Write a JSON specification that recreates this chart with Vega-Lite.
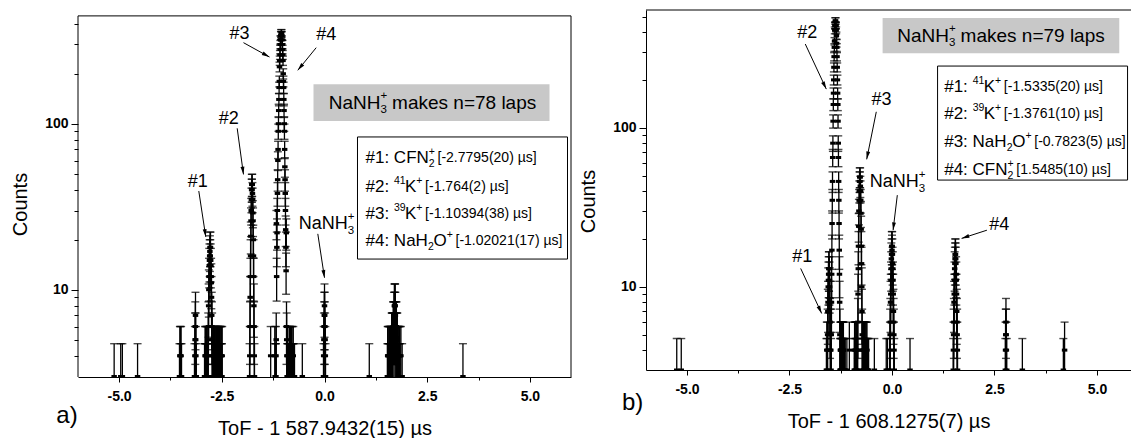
{
  "$schema": "https://vega.github.io/schema/vega-lite/v6.json",
  "background": "white",
  "padding": {"left": 10, "top": 9, "right": 0, "bottom": 0},
  "spacing": 6,
  "config": {
    "font": "Liberation Sans",
    "axis": {"domainColor": "black", "tickColor": "black", "labelColor": "black", "titleColor": "black", "grid": false, "labelFont": "Liberation Sans", "labelFontWeight": "bold", "labelFontSize": 14, "titleFont": "Liberation Sans", "titleFontWeight": "normal", "titleFontSize": 20, "domainWidth": 1, "tickWidth": 1},
    "text": {"font": "Liberation Sans", "color": "black"}
  },
  "datasets": {
    "err": [
      {"n":3,"lo":1.27,"hi":4.73},{"n":4,"lo":2,"hi":6},{"n":5,"lo":2.76,"hi":7.24},{"n":6,"lo":3.55,"hi":8.45},
      {"n":7,"lo":4.35,"hi":9.65},{"n":8,"lo":5.17,"hi":10.83},{"n":9,"lo":6,"hi":12},{"n":10,"lo":6.84,"hi":13.16},
      {"n":11,"lo":7.68,"hi":14.32},{"n":12,"lo":8.54,"hi":15.46},{"n":13,"lo":9.39,"hi":16.61},{"n":14,"lo":10.26,"hi":17.74},
      {"n":15,"lo":11.13,"hi":18.87},{"n":16,"lo":12,"hi":20},{"n":17,"lo":12.88,"hi":21.12},{"n":18,"lo":13.76,"hi":22.24},
      {"n":19,"lo":14.64,"hi":23.36},{"n":20,"lo":15.53,"hi":24.47},{"n":21,"lo":16.42,"hi":25.58},{"n":22,"lo":17.31,"hi":26.69},
      {"n":23,"lo":18.2,"hi":27.8},{"n":24,"lo":19.1,"hi":28.9},{"n":25,"lo":20,"hi":30},{"n":26,"lo":20.9,"hi":31.1},
      {"n":27,"lo":21.8,"hi":32.2},{"n":28,"lo":22.71,"hi":33.29},{"n":29,"lo":23.61,"hi":34.39},{"n":30,"lo":24.52,"hi":35.48},
      {"n":35,"lo":29.08,"hi":40.92},{"n":38,"lo":31.84,"hi":44.16},{"n":40,"lo":33.68,"hi":46.32},{"n":43,"lo":36.44,"hi":49.56},
      {"n":46,"lo":39.22,"hi":52.78},{"n":49,"lo":42,"hi":56},{"n":55,"lo":47.58,"hi":62.42},{"n":60,"lo":52.25,"hi":67.75},
      {"n":65,"lo":56.94,"hi":73.06},{"n":70,"lo":61.63,"hi":78.37},{"n":80,"lo":71.06,"hi":88.94},{"n":90,"lo":80.51,"hi":99.49},
      {"n":100,"lo":90,"hi":110},{"n":110,"lo":99.51,"hi":120.49},{"n":120,"lo":109.05,"hi":130.95},{"n":140,"lo":128.17,"hi":151.83},
      {"n":165,"lo":152.15,"hi":177.85},{"n":180,"lo":166.58,"hi":193.42},{"n":200,"lo":185.86,"hi":214.14},{"n":220,"lo":205.17,"hi":234.83},
      {"n":240,"lo":224.51,"hi":255.49},{"n":260,"lo":243.88,"hi":276.12},{"n":280,"lo":263.27,"hi":296.73},{"n":300,"lo":282.68,"hi":317.32},
      {"n":320,"lo":302.11,"hi":337.89},{"n":340,"lo":321.56,"hi":358.44},{"n":350,"lo":331.29,"hi":368.71},{"n":380,"lo":360.51,"hi":399.49},
      {"n":410,"lo":389.75,"hi":430.25},{"n":440,"lo":419.02,"hi":460.98},{"n":470,"lo":448.32,"hi":491.68}
    ],
    "histA": [
      {"x":-5.12,"n":3},{"x":-4.96,"n":3},{"x":-4.92,"n":3},{"x":-4.55,"n":3},
      {"x":-3.53,"n":3},{"x":-3.52,"n":4},{"x":-3.51,"n":4},{"x":-3.5,"n":3},{"x":-3.49,"n":4},{"x":-3.48,"n":3},
      {"x":-3.165,"n":3},{"x":-3.155,"n":4},{"x":-3.15,"n":5},{"x":-3.145,"n":6},{"x":-3.14,"n":7},{"x":-3.135,"n":5},{"x":-3.13,"n":4},{"x":-3.12,"n":3},
      {"x":-2.92,"n":3},{"x":-2.9125,"n":3},{"x":-2.905,"n":4},{"x":-2.8975,"n":4},{"x":-2.89,"n":3},{"x":-2.8825,"n":3},{"x":-2.875,"n":4},{"x":-2.8675,"n":4},{"x":-2.86,"n":4},{"x":-2.85,"n":3},{"x":-2.84,"n":3},{"x":-2.835,"n":4},{"x":-2.83,"n":5},{"x":-2.825,"n":6},{"x":-2.82,"n":8},{"x":-2.815,"n":10},{"x":-2.81,"n":12},{"x":-2.805,"n":14},{"x":-2.8,"n":15},{"x":-2.795,"n":16},{"x":-2.79,"n":17},{"x":-2.785,"n":18},{"x":-2.78,"n":16},{"x":-2.775,"n":18},{"x":-2.77,"n":15},{"x":-2.765,"n":14},{"x":-2.76,"n":12},{"x":-2.755,"n":11},{"x":-2.75,"n":9},{"x":-2.745,"n":7},{"x":-2.74,"n":6},{"x":-2.735,"n":5},{"x":-2.73,"n":4},{"x":-2.72,"n":3},{"x":-2.71,"n":4},{"x":-2.7025,"n":3},{"x":-2.7,"n":4},{"x":-2.6925,"n":4},{"x":-2.685,"n":3},{"x":-2.6775,"n":4},{"x":-2.67,"n":4},{"x":-2.6625,"n":3},{"x":-2.655,"n":3},{"x":-2.6475,"n":4},{"x":-2.64,"n":4},{"x":-2.6325,"n":4},{"x":-2.625,"n":3},{"x":-2.6175,"n":3},{"x":-2.61,"n":4},{"x":-2.6025,"n":4},{"x":-2.595,"n":3},{"x":-2.5875,"n":4},{"x":-2.58,"n":4},{"x":-2.5725,"n":3},{"x":-2.565,"n":3},{"x":-2.5575,"n":4},{"x":-2.55,"n":4},{"x":-2.5425,"n":4},{"x":-2.535,"n":3},{"x":-2.5275,"n":3},{"x":-2.52,"n":4},{"x":-2.5125,"n":4},{"x":-2.505,"n":3},{"x":-2.4975,"n":3},{"x":-2.49,"n":4},
      {"x":-1.824,"n":3},{"x":-1.819,"n":4},{"x":-1.814,"n":6},{"x":-1.809,"n":9},{"x":-1.804,"n":12},{"x":-1.799,"n":16},{"x":-1.794,"n":21},{"x":-1.789,"n":26},{"x":-1.784,"n":30},{"x":-1.779,"n":35},{"x":-1.774,"n":40},{"x":-1.769,"n":43},{"x":-1.764,"n":40},{"x":-1.759,"n":43},{"x":-1.754,"n":38},{"x":-1.749,"n":35},{"x":-1.744,"n":29},{"x":-1.739,"n":26},{"x":-1.734,"n":20},{"x":-1.729,"n":16},{"x":-1.724,"n":12},{"x":-1.719,"n":8},{"x":-1.714,"n":6},{"x":-1.709,"n":4},{"x":-1.704,"n":3},
      {"x":-1.31,"n":4},
      {"x":-1.21,"n":4},{"x":-1.2,"n":3},{"x":-1.19,"n":3},{"x":-1.185,"n":3},{"x":-1.18,"n":4},{"x":-1.175,"n":5},{"x":-1.17,"n":25},{"x":-1.165,"n":12},{"x":-1.16,"n":18},{"x":-1.155,"n":22},{"x":-1.15,"n":30},{"x":-1.145,"n":38},{"x":-1.14,"n":46},{"x":-1.135,"n":60},{"x":-1.13,"n":70},{"x":-1.125,"n":90},{"x":-1.12,"n":100},{"x":-1.115,"n":120},{"x":-1.11,"n":140},{"x":-1.105,"n":165},{"x":-1.1,"n":180},{"x":-1.095,"n":220},{"x":-1.09,"n":240},{"x":-1.085,"n":260},{"x":-1.08,"n":280},{"x":-1.075,"n":300},{"x":-1.07,"n":320},{"x":-1.065,"n":320},{"x":-1.06,"n":340},{"x":-1.055,"n":350},{"x":-1.05,"n":340},{"x":-1.045,"n":350},{"x":-1.04,"n":340},{"x":-1.035,"n":320},{"x":-1.03,"n":300},{"x":-1.025,"n":300},{"x":-1.02,"n":280},{"x":-1.015,"n":260},{"x":-1.01,"n":240},{"x":-1.005,"n":200},{"x":-1.0,"n":180},{"x":-0.995,"n":165},{"x":-0.99,"n":140},{"x":-0.985,"n":120},{"x":-0.98,"n":100},{"x":-0.975,"n":90},{"x":-0.97,"n":70},{"x":-0.965,"n":55},{"x":-0.96,"n":46},{"x":-0.955,"n":38},{"x":-0.95,"n":30},{"x":-0.945,"n":23},{"x":-0.94,"n":18},{"x":-0.935,"n":13},{"x":-0.93,"n":22},{"x":-0.925,"n":6},{"x":-0.92,"n":5},{"x":-0.915,"n":4},{"x":-0.91,"n":3},{"x":-0.9,"n":4},{"x":-0.89,"n":3},{"x":-0.88,"n":3},
      {"x":-0.87,"n":3},{"x":-0.86,"n":4},{"x":-0.85,"n":4},{"x":-0.84,"n":4},{"x":-0.83,"n":4},{"x":-0.82,"n":3},{"x":-0.81,"n":3},{"x":-0.8,"n":4},{"x":-0.79,"n":4},{"x":-0.78,"n":3},{"x":-0.77,"n":3},{"x":-0.76,"n":4},{"x":-0.75,"n":3},{"x":-0.73,"n":3},{"x":-0.54,"n":3},
      {"x":-0.025,"n":3},{"x":-0.02,"n":4},{"x":-0.015,"n":5},{"x":-0.01,"n":6},{"x":-0.005,"n":7},{"x":0.0,"n":8},{"x":0.005,"n":7},{"x":0.01,"n":6},{"x":0.015,"n":5},{"x":0.02,"n":4},{"x":0.025,"n":3},
      {"x":1.09,"n":3},
      {"x":1.53,"n":3},{"x":1.5375,"n":4},{"x":1.545,"n":4},{"x":1.5525,"n":3},{"x":1.56,"n":3},{"x":1.5675,"n":4},{"x":1.575,"n":4},{"x":1.5825,"n":3},{"x":1.59,"n":4},{"x":1.5975,"n":4},{"x":1.605,"n":3},{"x":1.6125,"n":4},{"x":1.62,"n":4},{"x":1.6275,"n":4},{"x":1.635,"n":5},{"x":1.6425,"n":5},{"x":1.65,"n":4},{"x":1.6575,"n":5},{"x":1.665,"n":5},{"x":1.6725,"n":6},{"x":1.68,"n":6},{"x":1.685,"n":6},{"x":1.69,"n":7},{"x":1.695,"n":5},{"x":1.7,"n":8},{"x":1.705,"n":6},{"x":1.71,"n":7},{"x":1.715,"n":8},{"x":1.72,"n":8},{"x":1.725,"n":7},{"x":1.73,"n":6},{"x":1.735,"n":5},{"x":1.74,"n":5},{"x":1.745,"n":6},{"x":1.75,"n":6},{"x":1.7575,"n":4},{"x":1.765,"n":5},{"x":1.7725,"n":5},{"x":1.78,"n":4},{"x":1.7875,"n":4},{"x":1.795,"n":4},{"x":1.8025,"n":3},{"x":1.81,"n":3},{"x":1.8175,"n":4},{"x":1.825,"n":4},{"x":1.8325,"n":4},{"x":1.84,"n":3},{"x":1.86,"n":4},{"x":1.89,"n":3},
      {"x":3.37,"n":3}
    ],
    "histB": [
      {"x":-5.25,"n":3},{"x":-5.14,"n":3},
      {"x":-1.6,"n":3},{"x":-1.59,"n":4},
      {"x":-1.58,"n":3},{"x":-1.575,"n":4},{"x":-1.57,"n":5},{"x":-1.565,"n":7},{"x":-1.56,"n":8},{"x":-1.555,"n":10},{"x":-1.55,"n":11},{"x":-1.545,"n":12},{"x":-1.54,"n":13},{"x":-1.535,"n":13},{"x":-1.53,"n":12},{"x":-1.525,"n":11},{"x":-1.52,"n":10},{"x":-1.515,"n":8},{"x":-1.51,"n":6},{"x":-1.505,"n":5},{"x":-1.5,"n":4},{"x":-1.495,"n":4},
      {"x":-1.486,"n":3},{"x":-1.481,"n":5},{"x":-1.476,"n":8},{"x":-1.471,"n":12},{"x":-1.466,"n":17},{"x":-1.461,"n":25},{"x":-1.456,"n":35},{"x":-1.451,"n":46},{"x":-1.446,"n":65},{"x":-1.441,"n":80},{"x":-1.436,"n":110},{"x":-1.431,"n":140},{"x":-1.426,"n":165},{"x":-1.421,"n":200},{"x":-1.416,"n":240},{"x":-1.411,"n":280},{"x":-1.406,"n":320},{"x":-1.401,"n":350},{"x":-1.396,"n":410},{"x":-1.391,"n":440},{"x":-1.386,"n":440},{"x":-1.381,"n":470},{"x":-1.376,"n":470},{"x":-1.371,"n":440},{"x":-1.366,"n":440},{"x":-1.361,"n":410},{"x":-1.356,"n":380},{"x":-1.351,"n":340},{"x":-1.346,"n":320},{"x":-1.341,"n":280},{"x":-1.336,"n":240},{"x":-1.331,"n":200},{"x":-1.326,"n":165},{"x":-1.321,"n":140},{"x":-1.316,"n":110},{"x":-1.311,"n":80},{"x":-1.306,"n":65},{"x":-1.301,"n":46},{"x":-1.296,"n":35},{"x":-1.291,"n":25},{"x":-1.286,"n":17},{"x":-1.281,"n":12},{"x":-1.276,"n":8},{"x":-1.271,"n":5},{"x":-1.266,"n":3},
      {"x":-1.26,"n":4},{"x":-1.255,"n":3},{"x":-1.25,"n":4},{"x":-1.245,"n":4},{"x":-1.24,"n":3},{"x":-1.235,"n":3},{"x":-1.23,"n":4},{"x":-1.225,"n":4},{"x":-1.22,"n":3},{"x":-1.215,"n":3},{"x":-1.21,"n":4},{"x":-1.205,"n":4},{"x":-1.2,"n":3},{"x":-1.195,"n":3},{"x":-1.19,"n":4},{"x":-1.185,"n":4},{"x":-1.18,"n":3},{"x":-1.17,"n":3},{"x":-1.16,"n":3},{"x":-1.14,"n":3},{"x":-1.1,"n":3},{"x":-1.04,"n":4},
      {"x":-0.92,"n":3},{"x":-0.9125,"n":4},{"x":-0.905,"n":4},{"x":-0.8975,"n":3},{"x":-0.89,"n":3},{"x":-0.8825,"n":4},{"x":-0.875,"n":4},{"x":-0.8675,"n":3},{"x":-0.86,"n":4},{"x":-0.855,"n":4},{"x":-0.85,"n":3},
      {"x":-0.842,"n":3},{"x":-0.837,"n":4},{"x":-0.832,"n":6},{"x":-0.827,"n":9},{"x":-0.822,"n":13},{"x":-0.817,"n":18},{"x":-0.812,"n":24},{"x":-0.807,"n":30},{"x":-0.802,"n":35},{"x":-0.797,"n":40},{"x":-0.792,"n":46},{"x":-0.787,"n":49},{"x":-0.782,"n":46},{"x":-0.777,"n":49},{"x":-0.772,"n":43},{"x":-0.767,"n":40},{"x":-0.762,"n":35},{"x":-0.757,"n":29},{"x":-0.752,"n":23},{"x":-0.747,"n":18},{"x":-0.742,"n":14},{"x":-0.737,"n":10},{"x":-0.732,"n":7},{"x":-0.727,"n":5},{"x":-0.722,"n":4},{"x":-0.717,"n":3},
      {"x":-0.71,"n":4},{"x":-0.705,"n":4},{"x":-0.7,"n":3},{"x":-0.695,"n":3},{"x":-0.69,"n":4},{"x":-0.6825,"n":4},{"x":-0.675,"n":3},{"x":-0.6675,"n":4},{"x":-0.66,"n":4},{"x":-0.6525,"n":3},{"x":-0.645,"n":3},{"x":-0.6375,"n":4},{"x":-0.63,"n":4},{"x":-0.6225,"n":3},{"x":-0.615,"n":3},{"x":-0.61,"n":4},{"x":-0.6,"n":3},{"x":-0.59,"n":3},{"x":-0.57,"n":3},
      {"x":-0.43,"n":3},{"x":-0.14,"n":3},{"x":-0.11,"n":3},
      {"x":-0.055,"n":3},{"x":-0.05,"n":4},{"x":-0.045,"n":5},{"x":-0.04,"n":6},{"x":-0.035,"n":8},{"x":-0.03,"n":9},{"x":-0.025,"n":11},{"x":-0.02,"n":13},{"x":-0.015,"n":15},{"x":-0.01,"n":16},{"x":-0.005,"n":18},{"x":0.0,"n":17},{"x":0.005,"n":18},{"x":0.01,"n":16},{"x":0.015,"n":14},{"x":0.02,"n":13},{"x":0.025,"n":11},{"x":0.03,"n":9},{"x":0.035,"n":7},{"x":0.04,"n":6},{"x":0.045,"n":5},{"x":0.05,"n":4},{"x":0.055,"n":3},
      {"x":0.44,"n":3},
      {"x":1.494,"n":3},{"x":1.499,"n":4},{"x":1.504,"n":5},{"x":1.509,"n":6},{"x":1.514,"n":8},{"x":1.519,"n":9},{"x":1.524,"n":11},{"x":1.529,"n":13},{"x":1.534,"n":14},{"x":1.539,"n":15},{"x":1.544,"n":16},{"x":1.549,"n":16},{"x":1.554,"n":15},{"x":1.559,"n":14},{"x":1.564,"n":12},{"x":1.569,"n":11},{"x":1.574,"n":9},{"x":1.579,"n":7},{"x":1.584,"n":6},{"x":1.589,"n":5},{"x":1.594,"n":4},{"x":1.599,"n":3},
      {"x":2.765,"n":3},{"x":2.77,"n":4},{"x":2.775,"n":5},{"x":2.78,"n":6},{"x":2.785,"n":5},{"x":2.79,"n":4},{"x":2.8,"n":3},
      {"x":3.18,"n":3},{"x":4.18,"n":3},{"x":4.21,"n":4}
    ],
    "annA": [
      {"k":"lab","x":-2.069,"y":348,"t":"#3"},
      {"k":"lab","x":0.041,"y":342,"t":"#4"},
      {"k":"lab","x":-2.33,"y":106.3,"t":"#2"},
      {"k":"lab","x":-3.084,"y":44.8,"t":"#1"},
      {"k":"nl","x":-0.628,"y":24.8,"t":"NaNH"},
      {"k":"lsub","x":0.565,"y":24.8,"t":"3"},
      {"k":"lsup","x":0.565,"y":24.8,"t":"+"},
      {"k":"grey","x":0.102,"y":133.8,"t":"NaNH"},
      {"k":"lsub","x":1.361,"y":133.8,"t":"3"},
      {"k":"lsup","x":1.361,"y":133.8,"t":"+"},
      {"k":"grey","x":1.645,"y":133.8,"t":"makes n=78 laps"},
      {"k":"main","x":0.998,"y":62.1,"t":"#1: CFN"},
      {"k":"sub","x":2.539,"y":62.1,"t":"2"},
      {"k":"sup","x":2.539,"y":62.1,"t":"+"},
      {"k":"br","x":2.751,"y":62.1,"t":"[-2.7795(20) µs]"},
      {"k":"main","x":0.998,"y":41.6,"t":"#2:"},
      {"k":"sup","x":1.689,"y":41.6,"t":"41"},
      {"k":"main","x":1.96,"y":41.6,"t":"K"},
      {"k":"sup","x":2.235,"y":41.6,"t":"+"},
      {"k":"br","x":2.449,"y":41.6,"t":"[-1.764(2) µs]"},
      {"k":"main","x":0.998,"y":28.6,"t":"#3:"},
      {"k":"sup","x":1.689,"y":28.6,"t":"39"},
      {"k":"main","x":1.96,"y":28.6,"t":"K"},
      {"k":"sup","x":2.235,"y":28.6,"t":"+"},
      {"k":"br","x":2.449,"y":28.6,"t":"[-1.10394(38) µs]"},
      {"k":"main","x":0.998,"y":19.65,"t":"#4: NaH"},
      {"k":"sub","x":2.517,"y":19.65,"t":"2"},
      {"k":"main","x":2.653,"y":19.65,"t":"O"},
      {"k":"sup","x":2.975,"y":19.65,"t":"+"},
      {"k":"br","x":3.189,"y":19.65,"t":"[-1.02021(17) µs]"},
      {"k":"panel","x":-6.268,"y":1.734,"t":"a)"}
    ],
    "boxA": [
      {"k":"grey","x":-0.268,"x2":5.477,"y":103.8,"y2":172.8},
      {"k":"leg","x":0.803,"x2":5.915,"y":15.3,"y2":83.2}
    ],
    "arrA": [
      {"x":-1.972,"y":307.7,"x2":-1.339,"y2":252,"ang":118.8},
      {"x":-0.202,"y":287,"x2":-0.65,"y2":209.7,"ang":219.2},
      {"x":-2.125,"y":93.8,"x2":-1.972,"y2":49.5,"ang":172.2},
      {"x":-3.06,"y":39.3,"x2":-2.89,"y2":20.8,"ang":171.7},
      {"x":-0.163,"y":21.7,"x2":0.0,"y2":11.8,"ang":171.3}
    ],
    "annB": [
      {"k":"lab","x":-2.066,"y":393.9,"t":"#2"},
      {"k":"lab","x":-0.256,"y":149.4,"t":"#3"},
      {"k":"lab","x":-2.188,"y":15.4,"t":"#1"},
      {"k":"lab","x":2.615,"y":24.4,"t":"#4"},
      {"k":"nl","x":-0.541,"y":45.7,"t":"NaNH"},
      {"k":"lsub","x":0.654,"y":45.7,"t":"3"},
      {"k":"lsup","x":0.654,"y":45.7,"t":"+"},
      {"k":"grey","x":0.127,"y":380,"t":"NaNH"},
      {"k":"lsub","x":1.388,"y":380,"t":"3"},
      {"k":"lsup","x":1.388,"y":380,"t":"+"},
      {"k":"grey","x":1.673,"y":380,"t":"makes n=79 laps"},
      {"k":"main","x":1.274,"y":180.3,"t":"#1:"},
      {"k":"sup","x":1.968,"y":180.3,"t":"41"},
      {"k":"main","x":2.239,"y":180.3,"t":"K"},
      {"k":"sup","x":2.515,"y":180.3,"t":"+"},
      {"k":"br","x":2.729,"y":180.3,"t":"[-1.5335(20) µs]"},
      {"k":"main","x":1.274,"y":121.9,"t":"#2:"},
      {"k":"sup","x":1.968,"y":121.9,"t":"39"},
      {"k":"main","x":2.239,"y":121.9,"t":"K"},
      {"k":"sup","x":2.515,"y":121.9,"t":"+"},
      {"k":"br","x":2.729,"y":121.9,"t":"[-1.3761(10) µs]"},
      {"k":"main","x":1.274,"y":81.3,"t":"#3: NaH"},
      {"k":"sub","x":2.798,"y":81.3,"t":"2"},
      {"k":"main","x":2.934,"y":81.3,"t":"O"},
      {"k":"sup","x":3.256,"y":81.3,"t":"+"},
      {"k":"br","x":3.471,"y":81.3,"t":"[-0.7823(5) µs]"},
      {"k":"main","x":1.274,"y":54.2,"t":"#4: CFN"},
      {"k":"sub","x":2.82,"y":54.2,"t":"2"},
      {"k":"sup","x":2.82,"y":54.2,"t":"+"},
      {"k":"br","x":3.034,"y":54.2,"t":"[1.5485(10) µs]"},
      {"k":"panel","x":-6.327,"y":1.848,"t":"b)"}
    ],
    "boxB": [
      {"k":"grey","x":-0.229,"x2":5.544,"y":293.8,"y2":489.7},
      {"k":"leg","x":1.112,"x2":5.746,"y":46.9,"y2":244.3}
    ],
    "arrB": [
      {"x":-2.115,"y":336,"x2":-1.602,"y2":175,"ang":153.9},
      {"x":-0.383,"y":126,"x2":-0.617,"y2":63.3,"ang":191.4},
      {"x":0.13,"y":37.7,"x2":0.027,"y2":22.7,"ang":186.8},
      {"x":-2.227,"y":13.05,"x2":-1.715,"y2":6.8,"ang":155},
      {"x":2.315,"y":22.7,"x2":1.698,"y2":20.16,"ang":251.8}
    ]
  },
  "hconcat": [
    {
      "width": 493,
      "height": 367,
      "view": {"stroke": null},
      "layer": [
        {
          "data": {"name": "histA"},
          "transform": [{"lookup": "n", "from": {"data": {"name": "err"}, "key": "n", "fields": ["lo", "hi"]}}],
          "layer": [
            {
              "mark": {"type": "rule", "color": "black", "strokeWidth": 1.3, "clip": true},
              "encoding": {
                "x": {"field": "x", "type": "quantitative", "title": "ToF - 1 587.9432(15) µs",
                  "scale": {"domain": [-6, 6], "nice": false, "zero": false},
                  "axis": {"values": [-5, -3.75, -2.5, -1.25, 0, 1.25, 2.5, 3.75, 5],
                    "labelExpr": "abs(datum.value % 2.5) < 0.001 ? (datum.value < 0 ? '-' : '') + format(abs(datum.value), '.1f') : ''",
                    "tickSize": {"condition": {"test": "abs(datum.value % 2.5) < 0.001", "value": 5}, "value": 3},
                    "labelPadding": 7, "titlePadding": 15}},
                "y": {"field": "lo", "type": "quantitative", "title": "Counts",
                  "scale": {"type": "log", "domain": [2.98, 484], "nice": false},
                  "axis": {"values": [4, 5, 6, 7, 8, 9, 10, 20, 30, 40, 50, 60, 70, 80, 90, 100, 200, 300, 400],
                    "domain": false,
                    "labelExpr": "(datum.value == 10 || datum.value == 100) ? '' + datum.value : ''",
                    "tickSize": {"condition": {"test": "datum.value == 10 || datum.value == 100", "value": 7}, "value": 4},
                    "labelPadding": 3, "titlePadding": 14, "titleY": 194}},
                "y2": {"field": "hi"}
              }
            },
            {
              "mark": {"type": "tick", "orient": "horizontal", "color": "black", "size": 8, "thickness": 1.4, "clip": true},
              "encoding": {"x": {"field": "x", "type": "quantitative"}, "y": {"field": "hi", "type": "quantitative"}}
            },
            {
              "mark": {"type": "tick", "orient": "horizontal", "color": "black", "size": 8, "thickness": 1.4, "clip": true},
              "encoding": {"x": {"field": "x", "type": "quantitative"}, "y": {"field": "lo", "type": "quantitative"}}
            },
            {
              "mark": {"type": "point", "shape": "M-1,-0.55L1,-0.55L1,0.55L-1,0.55Z", "filled": true, "color": "black", "size": 30, "opacity": 1, "clip": true},
              "encoding": {"x": {"field": "x", "type": "quantitative"}, "y": {"field": "n", "type": "quantitative"}}
            }
          ]
        },
        {
          "data": {"values": [{}]},
          "mark": {"type": "rule", "color": "black", "strokeWidth": 1},
          "encoding": {"y": {"datum": 446}}
        },
        {
          "data": {"values": [{}]},
          "mark": {"type": "rule", "color": "black", "strokeWidth": 1},
          "encoding": {"x": {"datum": -6}, "y": {"datum": 2.98}, "y2": {"datum": 446}}
        },
        {
          "data": {"values": [{}]},
          "mark": {"type": "rule", "color": "black", "strokeWidth": 1},
          "encoding": {"x": {"datum": 6}, "y": {"datum": 2.98}, "y2": {"datum": 446}}
        },
        {
          "data": {"name": "boxA"},
          "transform": [{"filter": "datum.k == 'grey'"}],
          "mark": {"type": "rect", "color": "#c8c8c8"},
          "encoding": {"x": {"field": "x", "type": "quantitative"}, "x2": {"field": "x2"}, "y": {"field": "y", "type": "quantitative"}, "y2": {"field": "y2"}}
        },
        {
          "data": {"name": "boxA"},
          "transform": [{"filter": "datum.k == 'leg'"}],
          "mark": {"type": "rect", "fill": "white", "stroke": "black", "strokeWidth": 1},
          "encoding": {"x": {"field": "x", "type": "quantitative"}, "x2": {"field": "x2"}, "y": {"field": "y", "type": "quantitative"}, "y2": {"field": "y2"}}
        },
        {
          "data": {"name": "arrA"},
          "mark": {"type": "rule", "color": "black", "strokeWidth": 1},
          "encoding": {"x": {"field": "x", "type": "quantitative"}, "x2": {"field": "x2"}, "y": {"field": "y", "type": "quantitative"}, "y2": {"field": "y2"}}
        },
        {
          "data": {"name": "arrA"},
          "mark": {"type": "point", "shape": "M0,0L0.55,2.2L-0.55,2.2Z", "filled": true, "color": "black", "size": 50, "opacity": 1},
          "encoding": {"x": {"field": "x2", "type": "quantitative"}, "y": {"field": "y2", "type": "quantitative"}, "angle": {"field": "ang", "type": "quantitative", "scale": null}}
        },
        {
          "data": {"name": "annA"},
          "transform": [{"filter": "datum.k == 'lab'"}],
          "mark": {"type": "text", "fontSize": 18, "align": "center", "baseline": "middle"},
          "encoding": {"x": {"field": "x", "type": "quantitative"}, "y": {"field": "y", "type": "quantitative"}, "text": {"field": "t"}}
        },
        {
          "data": {"name": "annA"},
          "transform": [{"filter": "datum.k == 'nl'"}],
          "mark": {"type": "text", "fontSize": 18, "align": "left", "baseline": "middle"},
          "encoding": {"x": {"field": "x", "type": "quantitative"}, "y": {"field": "y", "type": "quantitative"}, "text": {"field": "t"}}
        },
        {
          "data": {"name": "annA"},
          "transform": [{"filter": "datum.k == 'grey'"}],
          "mark": {"type": "text", "fontSize": 19, "align": "left", "baseline": "middle"},
          "encoding": {"x": {"field": "x", "type": "quantitative"}, "y": {"field": "y", "type": "quantitative"}, "text": {"field": "t"}}
        },
        {
          "data": {"name": "annA"},
          "transform": [{"filter": "datum.k == 'lsub'"}],
          "mark": {"type": "text", "fontSize": 11.5, "align": "left", "baseline": "middle", "dy": 7},
          "encoding": {"x": {"field": "x", "type": "quantitative"}, "y": {"field": "y", "type": "quantitative"}, "text": {"field": "t"}}
        },
        {
          "data": {"name": "annA"},
          "transform": [{"filter": "datum.k == 'lsup'"}],
          "mark": {"type": "text", "fontSize": 11.5, "align": "left", "baseline": "middle", "dy": -7},
          "encoding": {"x": {"field": "x", "type": "quantitative"}, "y": {"field": "y", "type": "quantitative"}, "text": {"field": "t"}}
        },
        {
          "data": {"name": "annA"},
          "transform": [{"filter": "datum.k == 'main'"}],
          "mark": {"type": "text", "fontSize": 17, "align": "left", "baseline": "middle"},
          "encoding": {"x": {"field": "x", "type": "quantitative"}, "y": {"field": "y", "type": "quantitative"}, "text": {"field": "t"}}
        },
        {
          "data": {"name": "annA"},
          "transform": [{"filter": "datum.k == 'sub'"}],
          "mark": {"type": "text", "fontSize": 10.5, "align": "left", "baseline": "middle", "dy": 6},
          "encoding": {"x": {"field": "x", "type": "quantitative"}, "y": {"field": "y", "type": "quantitative"}, "text": {"field": "t"}}
        },
        {
          "data": {"name": "annA"},
          "transform": [{"filter": "datum.k == 'sup'"}],
          "mark": {"type": "text", "fontSize": 10.5, "align": "left", "baseline": "middle", "dy": -6},
          "encoding": {"x": {"field": "x", "type": "quantitative"}, "y": {"field": "y", "type": "quantitative"}, "text": {"field": "t"}}
        },
        {
          "data": {"name": "annA"},
          "transform": [{"filter": "datum.k == 'br'"}],
          "mark": {"type": "text", "fontSize": 14, "align": "left", "baseline": "middle"},
          "encoding": {"x": {"field": "x", "type": "quantitative"}, "y": {"field": "y", "type": "quantitative"}, "text": {"field": "t"}}
        },
        {
          "data": {"name": "annA"},
          "transform": [{"filter": "datum.k == 'panel'"}],
          "mark": {"type": "text", "fontSize": 24, "align": "center", "baseline": "middle"},
          "encoding": {"x": {"field": "x", "type": "quantitative"}, "y": {"field": "y", "type": "quantitative"}, "text": {"field": "t"}}
        }
      ]
    },
    {
      "width": 485,
      "height": 360,
      "view": {"stroke": null},
      "layer": [
        {
          "data": {"name": "histB"},
          "transform": [{"lookup": "n", "from": {"data": {"name": "err"}, "key": "n", "fields": ["lo", "hi"]}}],
          "layer": [
            {
              "mark": {"type": "rule", "color": "black", "strokeWidth": 1.3, "clip": true},
              "encoding": {
                "x": {"field": "x", "type": "quantitative", "title": "ToF - 1 608.1275(7) µs",
                  "scale": {"domain": [-6, 5.83], "nice": false, "zero": false},
                  "axis": {"values": [-5, -3.75, -2.5, -1.25, 0, 1.25, 2.5, 3.75, 5],
                    "labelExpr": "abs(datum.value % 2.5) < 0.001 ? (datum.value < 0 ? '-' : '') + format(abs(datum.value), '.1f') : ''",
                    "tickSize": {"condition": {"test": "abs(datum.value % 2.5) < 0.001", "value": 5}, "value": 3},
                    "labelPadding": 7, "titlePadding": 15}},
                "y": {"field": "lo", "type": "quantitative", "title": "Counts",
                  "scale": {"type": "log", "domain": [3, 550], "nice": false},
                  "axis": {"values": [4, 5, 6, 7, 8, 9, 10, 20, 30, 40, 50, 60, 70, 80, 90, 100, 200, 300, 400, 500],
                    "labelExpr": "(datum.value == 10 || datum.value == 100) ? '' + datum.value : ''",
                    "tickSize": {"condition": {"test": "datum.value == 10 || datum.value == 100", "value": 7}, "value": 4},
                    "labelPadding": 3, "titlePadding": 14, "titleY": 191}},
                "y2": {"field": "hi"}
              }
            },
            {
              "mark": {"type": "tick", "orient": "horizontal", "color": "black", "size": 8, "thickness": 1.4, "clip": true},
              "encoding": {"x": {"field": "x", "type": "quantitative"}, "y": {"field": "hi", "type": "quantitative"}}
            },
            {
              "mark": {"type": "tick", "orient": "horizontal", "color": "black", "size": 8, "thickness": 1.4, "clip": true},
              "encoding": {"x": {"field": "x", "type": "quantitative"}, "y": {"field": "lo", "type": "quantitative"}}
            },
            {
              "mark": {"type": "point", "shape": "M-1,-0.55L1,-0.55L1,0.55L-1,0.55Z", "filled": true, "color": "black", "size": 30, "opacity": 1, "clip": true},
              "encoding": {"x": {"field": "x", "type": "quantitative"}, "y": {"field": "n", "type": "quantitative"}}
            }
          ]
        },
        {
          "data": {"values": [{}]},
          "mark": {"type": "rule", "color": "black", "strokeWidth": 1},
          "encoding": {"y": {"datum": 550}}
        },
        {
          "data": {"name": "boxB"},
          "transform": [{"filter": "datum.k == 'grey'"}],
          "mark": {"type": "rect", "color": "#c8c8c8"},
          "encoding": {"x": {"field": "x", "type": "quantitative"}, "x2": {"field": "x2"}, "y": {"field": "y", "type": "quantitative"}, "y2": {"field": "y2"}}
        },
        {
          "data": {"name": "boxB"},
          "transform": [{"filter": "datum.k == 'leg'"}],
          "mark": {"type": "rect", "fill": "white", "stroke": "black", "strokeWidth": 1},
          "encoding": {"x": {"field": "x", "type": "quantitative"}, "x2": {"field": "x2"}, "y": {"field": "y", "type": "quantitative"}, "y2": {"field": "y2"}}
        },
        {
          "data": {"name": "arrB"},
          "mark": {"type": "rule", "color": "black", "strokeWidth": 1},
          "encoding": {"x": {"field": "x", "type": "quantitative"}, "x2": {"field": "x2"}, "y": {"field": "y", "type": "quantitative"}, "y2": {"field": "y2"}}
        },
        {
          "data": {"name": "arrB"},
          "mark": {"type": "point", "shape": "M0,0L0.55,2.2L-0.55,2.2Z", "filled": true, "color": "black", "size": 50, "opacity": 1},
          "encoding": {"x": {"field": "x2", "type": "quantitative"}, "y": {"field": "y2", "type": "quantitative"}, "angle": {"field": "ang", "type": "quantitative", "scale": null}}
        },
        {
          "data": {"name": "annB"},
          "transform": [{"filter": "datum.k == 'lab'"}],
          "mark": {"type": "text", "fontSize": 18, "align": "center", "baseline": "middle"},
          "encoding": {"x": {"field": "x", "type": "quantitative"}, "y": {"field": "y", "type": "quantitative"}, "text": {"field": "t"}}
        },
        {
          "data": {"name": "annB"},
          "transform": [{"filter": "datum.k == 'nl'"}],
          "mark": {"type": "text", "fontSize": 18, "align": "left", "baseline": "middle"},
          "encoding": {"x": {"field": "x", "type": "quantitative"}, "y": {"field": "y", "type": "quantitative"}, "text": {"field": "t"}}
        },
        {
          "data": {"name": "annB"},
          "transform": [{"filter": "datum.k == 'grey'"}],
          "mark": {"type": "text", "fontSize": 19, "align": "left", "baseline": "middle"},
          "encoding": {"x": {"field": "x", "type": "quantitative"}, "y": {"field": "y", "type": "quantitative"}, "text": {"field": "t"}}
        },
        {
          "data": {"name": "annB"},
          "transform": [{"filter": "datum.k == 'lsub'"}],
          "mark": {"type": "text", "fontSize": 11.5, "align": "left", "baseline": "middle", "dy": 7},
          "encoding": {"x": {"field": "x", "type": "quantitative"}, "y": {"field": "y", "type": "quantitative"}, "text": {"field": "t"}}
        },
        {
          "data": {"name": "annB"},
          "transform": [{"filter": "datum.k == 'lsup'"}],
          "mark": {"type": "text", "fontSize": 11.5, "align": "left", "baseline": "middle", "dy": -7},
          "encoding": {"x": {"field": "x", "type": "quantitative"}, "y": {"field": "y", "type": "quantitative"}, "text": {"field": "t"}}
        },
        {
          "data": {"name": "annB"},
          "transform": [{"filter": "datum.k == 'main'"}],
          "mark": {"type": "text", "fontSize": 17, "align": "left", "baseline": "middle"},
          "encoding": {"x": {"field": "x", "type": "quantitative"}, "y": {"field": "y", "type": "quantitative"}, "text": {"field": "t"}}
        },
        {
          "data": {"name": "annB"},
          "transform": [{"filter": "datum.k == 'sub'"}],
          "mark": {"type": "text", "fontSize": 10.5, "align": "left", "baseline": "middle", "dy": 6},
          "encoding": {"x": {"field": "x", "type": "quantitative"}, "y": {"field": "y", "type": "quantitative"}, "text": {"field": "t"}}
        },
        {
          "data": {"name": "annB"},
          "transform": [{"filter": "datum.k == 'sup'"}],
          "mark": {"type": "text", "fontSize": 10.5, "align": "left", "baseline": "middle", "dy": -6},
          "encoding": {"x": {"field": "x", "type": "quantitative"}, "y": {"field": "y", "type": "quantitative"}, "text": {"field": "t"}}
        },
        {
          "data": {"name": "annB"},
          "transform": [{"filter": "datum.k == 'br'"}],
          "mark": {"type": "text", "fontSize": 14, "align": "left", "baseline": "middle"},
          "encoding": {"x": {"field": "x", "type": "quantitative"}, "y": {"field": "y", "type": "quantitative"}, "text": {"field": "t"}}
        },
        {
          "data": {"name": "annB"},
          "transform": [{"filter": "datum.k == 'panel'"}],
          "mark": {"type": "text", "fontSize": 24, "align": "center", "baseline": "middle"},
          "encoding": {"x": {"field": "x", "type": "quantitative"}, "y": {"field": "y", "type": "quantitative"}, "text": {"field": "t"}}
        }
      ]
    }
  ]
}
